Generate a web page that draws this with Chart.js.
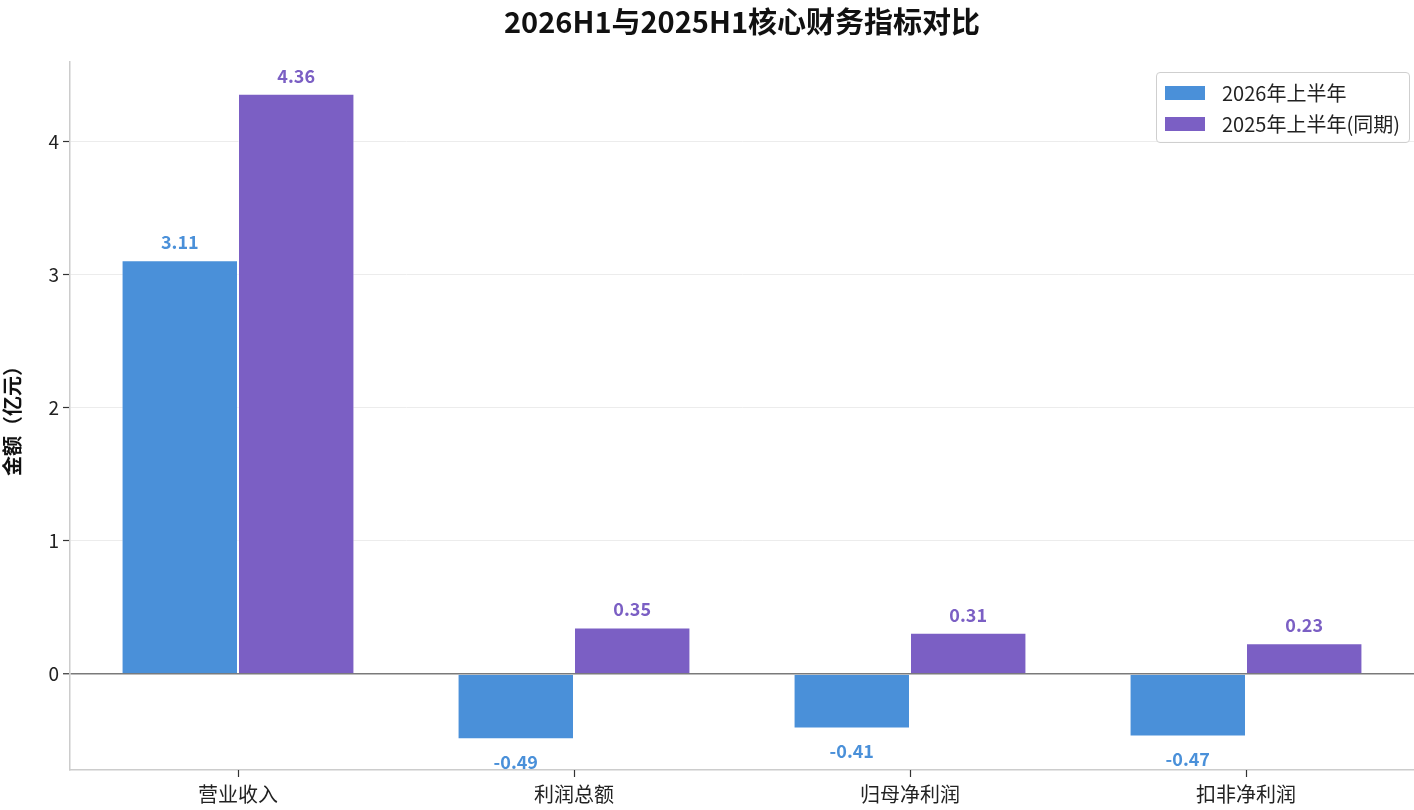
<!DOCTYPE html>
<html>
<head>
<meta charset="utf-8">
<title>2026H1与2025H1核心财务指标对比</title>
<script src="https://cdn.jsdelivr.net/npm/chart.js@4.4.1/dist/chart.umd.min.js"></script>
<style>
    body { margin: 0; background: #fff; }
    #wrap { position: relative; width: 1414px; height: 810px; }
    #legend {
        position: absolute; left: 1156px; top: 72px; width: 254px; height: 71px;
        border: 1px solid #cfcfcf; border-radius: 4px; background: rgba(255,255,255,0.85);
        padding: 4px 0 0 0; box-sizing: border-box;
        font-family: "Noto Sans CJK SC", "Noto Sans", sans-serif; font-size: 20px; color: #222;
    }
    .item { display: flex; align-items: center; height: 31px; }
    .swatch { width: 40px; height: 14px; margin: 0 17px 0 8px; }
</style>
</head>
<body>
<div id="wrap">
    <canvas id="chart"></canvas>
    <div id="legend"></div>
</div>
<script>
const FONT = '"Noto Sans CJK SC", "Noto Sans", sans-serif';

const categories = ['营业收入', '利润总额', '归母净利润', '扣非净利润'];
const seriesNames = ['2026年上半年', '2025年上半年(同期)'];
const values2026 = [3.11, -0.49, -0.41, -0.47];
const values2025 = [4.36, 0.35, 0.31, 0.23];
const seriesColors = ['#4A90D9', '#7B5FC4'];
const yTicks = [0, 1, 2, 3, 4];

// value labels above/below each bar
const barLabels = {
    id: 'barLabels',
    afterDatasetsDraw(chart) {
        const ctx = chart.ctx;
        ctx.save();
        ctx.font = 'bold 18px ' + FONT;
        ctx.textAlign = 'center';
        ctx.textBaseline = 'middle';
        chart.data.datasets.forEach((ds, i) => {
            const meta = chart.getDatasetMeta(i);
            ctx.fillStyle = ds.backgroundColor;
            meta.data.forEach((bar, j) => {
                const v = ds.data[j];
                const y = v >= 0 ? bar.y - 18 : bar.y + 23;
                ctx.fillText(v.toFixed(2), bar.x, y);
            });
        });
        ctx.restore();
    }
};

// small tick marks under the x axis at each category centre
const xTickMarks = {
    id: 'xTickMarks',
    afterDraw(chart) {
        const sx = chart.scales.x;
        const ctx = chart.ctx;
        ctx.save();
        ctx.strokeStyle = '#333';
        ctx.lineWidth = 1.2;
        sx.ticks.forEach((t, i) => {
            const x = Math.round(sx.getPixelForTick(i)) + 0.5;
            ctx.beginPath();
            ctx.moveTo(x, sx.top);
            ctx.lineTo(x, sx.top + 7);
            ctx.stroke();
        });
        ctx.restore();
    }
};

const chart = new Chart(document.getElementById('chart'), {
    type: 'bar',
    data: {
        labels: categories,
        datasets: [
            { label: seriesNames[0], data: values2026, backgroundColor: seriesColors[0] },
            { label: seriesNames[1], data: values2025, backgroundColor: seriesColors[1] }
        ]
    },
    options: {
        responsive: true,
        maintainAspectRatio: false,
        animation: false,
        layout: { padding: 0 },
        datasets: {
            bar: {
                categoryPercentage: 0.693,
                barPercentage: 1.0,
                borderWidth: 1,
                borderColor: 'rgba(255,255,255,0.55)'
            }
        },
        plugins: {
            legend: { display: false },
            tooltip: { enabled: false },
            title: {
                display: true,
                fullSize: false,
                text: '2026H1与2025H1核心财务指标对比',
                color: '#111',
                font: { family: FONT, size: 29, weight: 'bold' },
                padding: { top: 5, bottom: 22 }
            }
        },
        scales: {
            x: {
                border: { color: '#cccccc', width: 1.5 },
                grid: { display: false, tickLength: 7 },
                ticks: { color: '#222', font: { family: FONT, size: 20 }, padding: 5 },
                afterFit(scale) { scale.height = 40; }
            },
            y: {
                min: -0.722,
                max: 4.601,
                border: { color: '#cccccc', width: 1.5 },
                grid: {
                    color: ctx => ctx.tick && ctx.tick.value === 0 ? '#7a7a7a' : '#ececec',
                    lineWidth: ctx => ctx.tick && ctx.tick.value === 0 ? 1.5 : 1,
                    tickLength: 7,
                    tickColor: '#333',
                    tickWidth: 1.2
                },
                afterBuildTicks(scale) { scale.ticks = yTicks.map(v => ({ value: v })); },
                ticks: { color: '#222', font: { family: FONT, size: 19 }, padding: 4 },
                title: {
                    display: true,
                    text: '金额（亿元）',
                    color: '#111',
                    font: { family: FONT, size: 20, weight: 'bold' },
                    padding: { top: 0, bottom: 2 }
                },
                afterFit(scale) { scale.width = 70; }
            }
        }
    },
    plugins: [barLabels, xTickMarks]
});

// legend built from the chart datasets
document.getElementById('legend').innerHTML = chart.data.datasets.map(ds => `
    <div class="item">
        <span class="swatch" style="background:${ds.backgroundColor}"></span>
        <span>${ds.label}</span>
    </div>
`).join('');
</script>
</body>
</html>
